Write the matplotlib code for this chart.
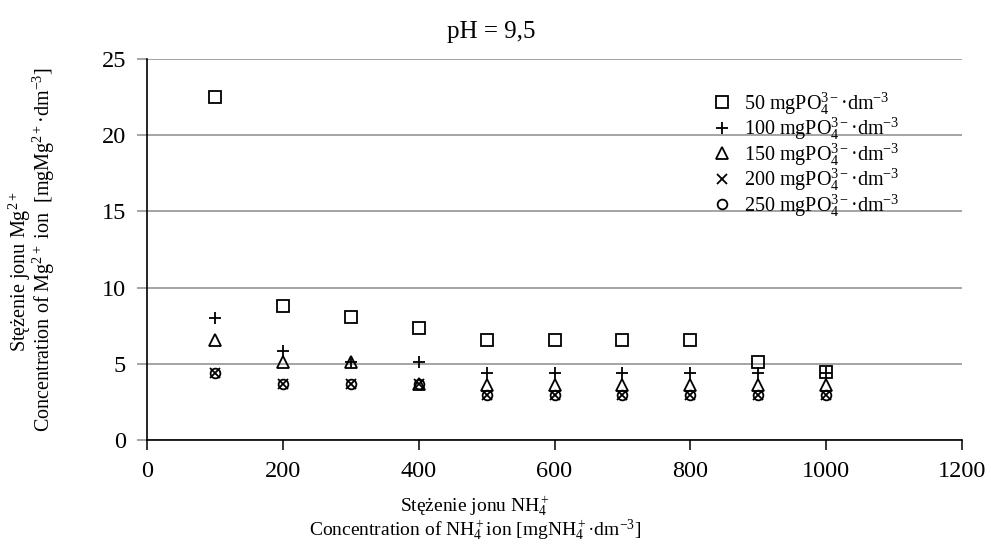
import matplotlib
matplotlib.use("Agg")
import matplotlib.pyplot as plt

plt.rcParams['font.family'] = ['Liberation Serif', 'DejaVu Serif']
plt.rcParams['mathtext.fontset'] = 'custom'
plt.rcParams['mathtext.rm'] = 'Liberation Serif'
plt.rcParams['mathtext.it'] = 'Liberation Serif:italic'
plt.rcParams['mathtext.bf'] = 'Liberation Serif:bold'

x = [100, 200, 300, 400, 500, 600, 700, 800, 900, 1000]
s50 = [22.5, 8.8, 8.05, 7.35, 6.55, 6.55, 6.55, 6.55, 5.15, 4.45]
s100 = [8.0, 5.85, 5.1, 5.1, 4.4, 4.4, 4.4, 4.4, 4.4, 4.4]
s150 = [6.55, 5.1, 5.1, 3.7, 3.6, 3.6, 3.6, 3.6, 3.6, 3.6]
s200 = [4.4, 3.65, 3.65, 3.65, 2.95, 2.95, 2.95, 2.95, 2.95, 2.95]
s250 = [4.4, 3.65, 3.65, 3.65, 2.95, 2.95, 2.95, 2.95, 2.95, 2.95]
labels = ["50", "100", "150", "200", "250"]
xticks = [0, 200, 400, 600, 800, 1000, 1200]
yticks = [0, 5, 10, 15, 20, 25]

fig = plt.figure(figsize=(9.91, 5.44), dpi=100)
ax = fig.add_axes([147/991, 1-440/544, (962-147)/991, (440-59)/544])

series = [s50, s100, s150, s200, s250]
markers = ['s', '+', '^', 'x', 'o']
sizes = [9, 8, 8, 7, 7]
handles = []
for ys, m, ms, lab in zip(series, markers, sizes, labels):
    h, = ax.plot(x, ys, linestyle='none', marker=m, markersize=ms,
                 markerfacecolor='none', markeredgecolor='black',
                 markeredgewidth=1.3, color='black', zorder=3,
                 label=r"%s mgPO$_4^{3-}$·dm$^{-3}$" % lab)
    handles.append(h)

ax.set_xlim(0, 1200)
ax.set_ylim(0, 25)
ax.set_xticks(xticks)
ax.set_yticks(yticks)
ax.yaxis.grid(True, color='#8c8c8c', linewidth=1.1)
ax.set_axisbelow(True)
for sp in ['top', 'right']:
    ax.spines[sp].set_visible(False)
for sp in ['left', 'bottom']:
    ax.spines[sp].set_color('black')
    ax.spines[sp].set_linewidth(1.2)
ax.tick_params(axis='both', direction='out', length=7, width=1.1,
               labelsize=17.5, pad=8, colors='black')
ax.tick_params(axis='y', color='#8c8c8c')

leg = ax.legend(handles=handles, loc='upper left',
                bbox_to_anchor=(702/991, 1-80/544),
                bbox_transform=fig.transFigure, frameon=False,
                fontsize=14.5, handlelength=1.0, handletextpad=0.6,
                labelspacing=-0.05, borderpad=0)

fig.text(491/991, 1-32/544, "pH = 9,5", ha='center', va='center', fontsize=18)

fig.text(20/991, 1-272/544, r"Stężenie jonu Mg$^{2+}$", rotation=90,
         ha='center', va='center', fontsize=14.5)
fig.text(44/991, 1-250/544,
         r"Concentration of Mg$^{2+}$ ion  [mgMg$^{2+}$·dm$^{-3}$]",
         rotation=90, ha='center', va='center', fontsize=14.5)

fig.text(475/991, 1-506/544, r"Stężenie jonu NH$_4^+$",
         ha='center', va='center', fontsize=14)
fig.text(475/991, 1-530/544,
         r"Concentration of NH$_4^+$ion [mgNH$_4^+$·dm$^{-3}$]",
         ha='center', va='center', fontsize=14)

fig.savefig("out.png", dpi=100)
